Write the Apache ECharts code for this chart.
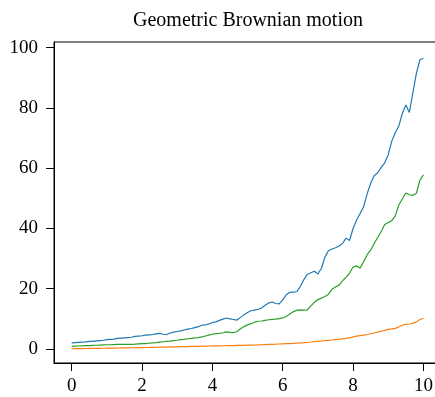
<!DOCTYPE html>
<html>
<head>
<meta charset="utf-8">
<script src="https://cdn.jsdelivr.net/npm/echarts@6/dist/echarts.min.js"></script>
<style>html,body{margin:0;padding:0;background:#fff}#c{width:435px;height:397px}</style>
</head>
<body>
<div id="c"></div>
<script>
const timeStep = 0.1;
const xTicks = [0, 2, 4, 6, 8, 10];
const yTicks = [0, 20, 40, 60, 80, 100];

const blue = [2.0,2.1,2.2,2.3,2.35,2.5,2.5,2.7,2.8,2.9,
3.1,3.2,3.3,3.5,3.6,3.7,3.8,3.9,4.2,4.3,
4.4,4.6,4.7,4.8,5.0,5.2,4.9,4.8,5.3,5.6,
5.8,6.0,6.3,6.6,6.8,7.1,7.4,7.9,8.0,8.3,
8.8,9.0,9.5,9.9,10.3,10.0,9.8,9.6,10.5,11.4,
12.1,12.7,12.9,13.2,13.6,14.5,15.3,15.6,15.1,15.0,
16.3,18.0,18.8,18.9,19.0,20.8,23.0,24.8,25.3,25.8,
24.9,26.8,30.5,32.6,33.2,33.6,34.2,35.0,36.8,36.0,
40.0,42.8,45.0,47.2,51.5,55.0,57.5,58.5,60.3,61.8,
64.5,69.0,71.8,74.0,78.2,81.0,78.5,85.0,91.5,96.0,96.5];

const orange = [0.10,0.12,0.13,0.15,0.16,0.18,0.19,0.21,0.23,0.25,
0.27,0.29,0.31,0.33,0.35,0.37,0.39,0.41,0.43,0.46,
0.48,0.50,0.52,0.55,0.58,0.61,0.63,0.65,0.68,0.70,
0.73,0.76,0.79,0.81,0.84,0.87,0.90,0.93,0.96,0.99,
1.02,1.04,1.06,1.08,1.10,1.13,1.15,1.18,1.21,1.23,
1.26,1.29,1.32,1.36,1.40,1.45,1.50,1.55,1.60,1.66,
1.71,1.76,1.81,1.87,1.95,2.02,2.10,2.20,2.32,2.45,
2.55,2.65,2.75,2.85,2.98,3.12,3.25,3.35,3.50,3.70,
4.00,4.25,4.45,4.60,4.80,5.05,5.30,5.60,5.90,6.20,
6.50,6.65,6.85,7.30,7.90,8.20,8.30,8.50,9.00,9.80,10.20];

const green = [0.9,0.95,1.0,1.05,1.1,1.15,1.2,1.25,1.3,1.35,
1.4,1.4,1.45,1.5,1.55,1.5,1.5,1.55,1.6,1.7,
1.8,1.8,1.9,2.0,2.1,2.3,2.4,2.5,2.6,2.8,
2.9,3.1,3.2,3.4,3.5,3.7,3.8,4.0,4.3,4.6,
4.9,5.1,5.2,5.4,5.7,5.5,5.4,5.8,6.7,7.5,
8.0,8.4,8.9,9.2,9.3,9.5,9.7,9.8,9.9,10.1,
10.3,10.8,11.6,12.4,12.8,13.0,12.9,13.0,14.3,15.5,
16.4,16.9,17.4,18.2,19.8,20.6,21.2,22.6,23.8,25.2,
27.2,27.6,26.8,29.0,31.3,32.8,35.0,37.0,39.0,41.3,
42.0,42.6,44.2,47.8,49.8,51.8,51.2,51.0,51.7,56.0,57.8];

function pts(arr){ return arr.map((v,i)=>[+(i*timeStep).toFixed(2), v]); }

const font = 'Liberation Serif, Times New Roman, serif';
const chart = echarts.init(document.getElementById('c'));
chart.setOption({
  animation: false,
  title: {
    text: 'Geometric Brownian motion',
    left: 243, top: 6, textAlign: 'center',
    textStyle: {fontFamily: font, fontSize: 20, fontWeight: 'normal', color: '#000'}
  },
  grid: {left: 54, width: 387, top: 42, height: 321, outerBoundsMode: 'none', containLabel: false, show: true, borderColor: '#000', borderWidth: 1, backgroundColor: 'transparent'},
  xAxis: {
    type: 'value', min: -0.503, max: 10.5,
    axisLine: {show: true, onZero: false, lineStyle: {color: '#000', width: 1}},
    axisTick: {show: true, length: 8, customValues: xTicks, lineStyle: {color: '#000'}},
    axisLabel: {customValues: xTicks, margin: 14, fontFamily: font, fontSize: 19, color: '#000'},
    splitLine: {show: false}
  },
  yAxis: {
    type: 'value', min: -4.65, max: 101.9,
    axisLine: {show: true, onZero: false, lineStyle: {color: '#000', width: 1}},
    axisTick: {show: true, length: 8, customValues: yTicks, lineStyle: {color: '#000'}},
    axisLabel: {customValues: yTicks, margin: 16, fontFamily: font, fontSize: 19, color: '#000'},
    splitLine: {show: false}
  },
  series: [
    {type: 'line', data: pts(blue), showSymbol: false, lineStyle: {color: '#1f77b4', width: 1.2}, itemStyle:{color:'#1f77b4'}},
    {type: 'line', data: pts(orange), showSymbol: false, lineStyle: {color: '#ff7f0e', width: 1.2}, itemStyle:{color:'#ff7f0e'}},
    {type: 'line', data: pts(green), showSymbol: false, lineStyle: {color: '#2ca02c', width: 1.2}, itemStyle:{color:'#2ca02c'}}
  ]
});
</script>
</body>
</html>
